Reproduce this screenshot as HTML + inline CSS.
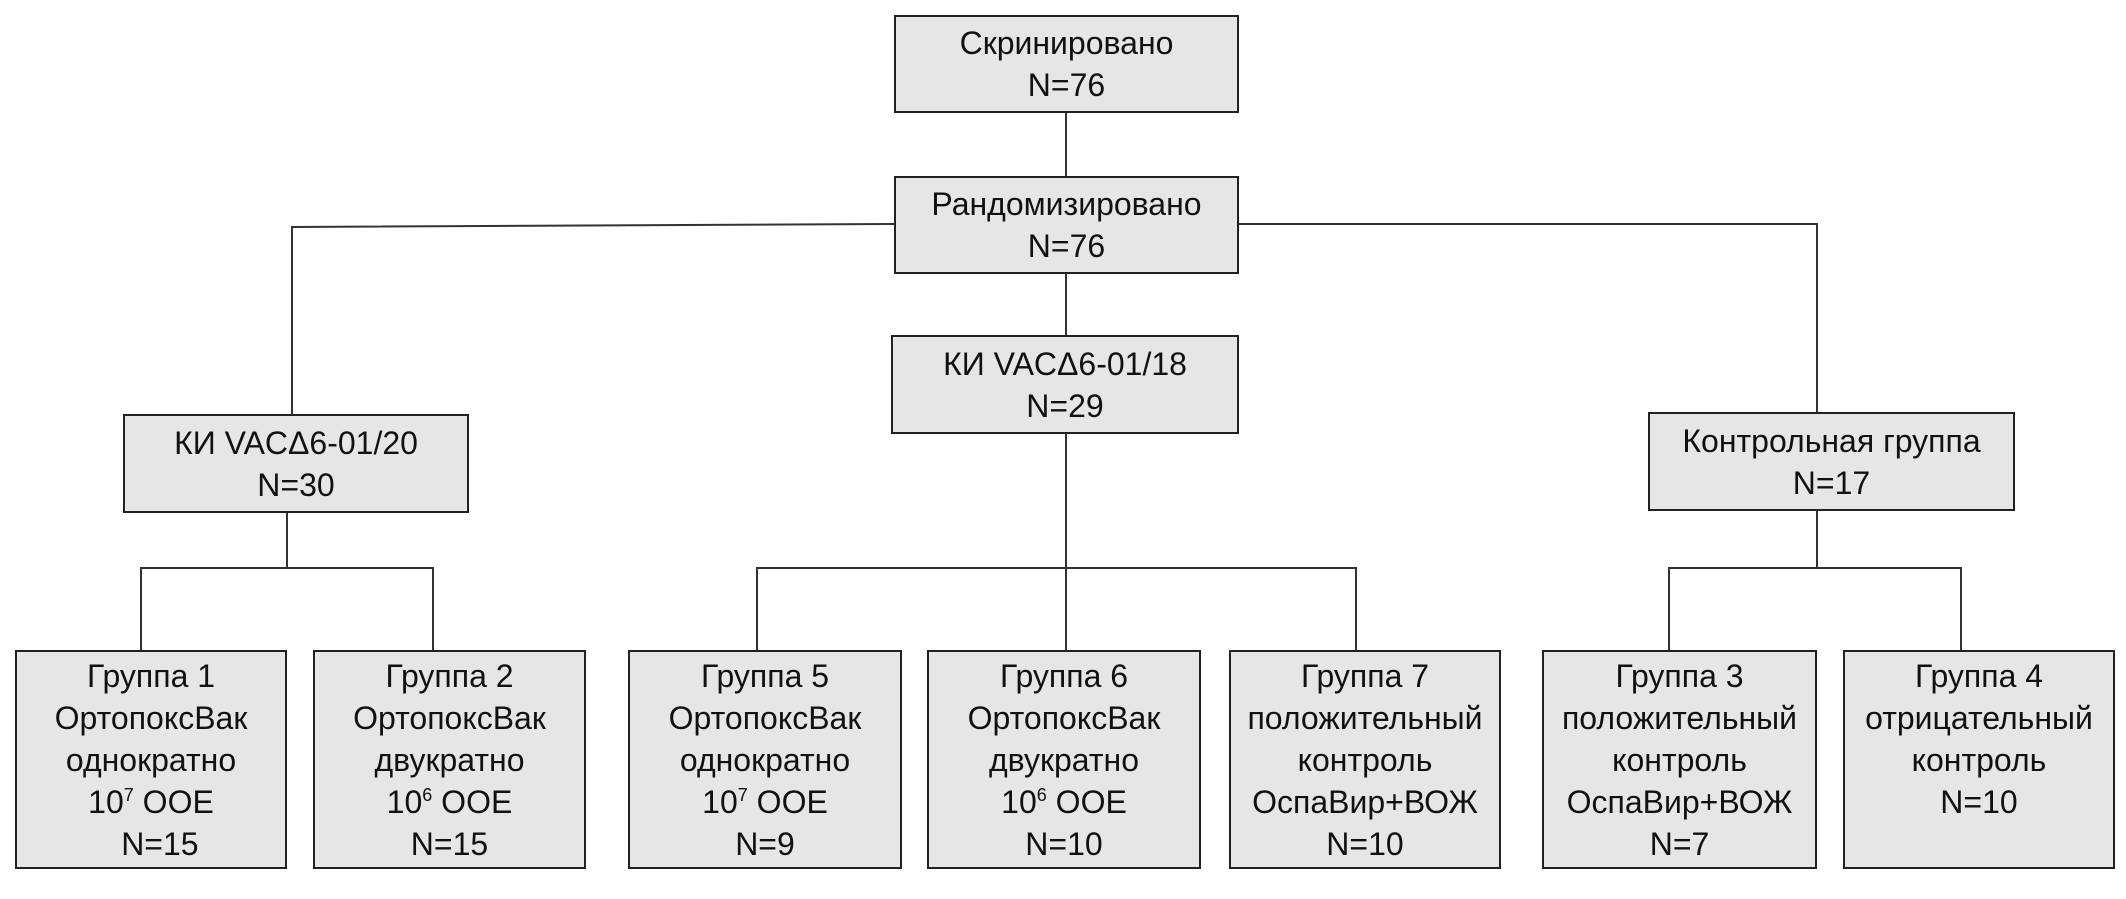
<!DOCTYPE html>
<html><head><meta charset="utf-8"><style>
body{margin:0;width:2126px;height:899px;background:#fff;position:relative;overflow:hidden;font-family:"Liberation Sans","DejaVu Sans",sans-serif;}
.b{position:absolute;box-sizing:border-box;background:#e6e6e6;border:2px solid #222;display:flex;align-items:center;justify-content:center;text-align:center;font-size:32px;line-height:42px;color:#111;}
.b>div{white-space:nowrap}
svg{position:absolute;left:0;top:0}
sup{font-size:18px;line-height:0;vertical-align:12px}
</style></head><body>
<svg width="2126" height="899" stroke="#333" stroke-width="2" fill="none">
<line x1="1066" y1="113" x2="1066" y2="176"/>
<polyline points="894,224 292,227 292,414"/>
<polyline points="1239,224 1817,224 1817,412"/>
<line x1="1066" y1="274" x2="1066" y2="335"/>
<line x1="1066" y1="434" x2="1066" y2="650"/>
<polyline points="757,650 757,568 1356,568 1356,650"/>
<line x1="287" y1="513" x2="287" y2="568"/>
<polyline points="141,650 141,568 433,568 433,650"/>
<line x1="1817" y1="511" x2="1817" y2="568"/>
<polyline points="1669,650 1669,568 1961,568 1961,650"/>
</svg>
<div class="b" style="left:894px;top:15px;width:345px;height:98px"><div>Скринировано<br>N=76</div></div>
<div class="b" style="left:894px;top:176px;width:345px;height:98px"><div>Рандомизировано<br>N=76</div></div>
<div class="b" style="left:891px;top:335px;width:348px;height:99px"><div>КИ VACΔ6-01/18<br>N=29</div></div>
<div class="b" style="left:123px;top:414px;width:346px;height:99px"><div>КИ VACΔ6-01/20<br>N=30</div></div>
<div class="b" style="left:1648px;top:412px;width:367px;height:99px"><div>Контрольная группа<br>N=17</div></div>
<div class="b" style="left:15px;top:650px;width:272px;height:219px"><div>Группа 1<br>ОртопоксВак<br>однократно<br>10<sup>7</sup> ООЕ<br>&nbsp;&nbsp;N=15</div></div>
<div class="b" style="left:313px;top:650px;width:273px;height:219px"><div>Группа 2<br>ОртопоксВак<br>двукратно<br>10<sup>6</sup> ООЕ<br>N=15</div></div>
<div class="b" style="left:628px;top:650px;width:274px;height:219px"><div>Группа 5<br>ОртопоксВак<br>однократно<br>10<sup>7</sup> ООЕ<br>N=9</div></div>
<div class="b" style="left:927px;top:650px;width:274px;height:219px"><div>Группа 6<br>ОртопоксВак<br>двукратно<br>10<sup>6</sup> ООЕ<br>N=10</div></div>
<div class="b" style="left:1229px;top:650px;width:272px;height:219px"><div>Группа 7<br>положительный<br>контроль<br>ОспаВир+ВОЖ<br>N=10</div></div>
<div class="b" style="left:1542px;top:650px;width:275px;height:219px"><div>Группа 3<br>положительный<br>контроль<br>ОспаВир+ВОЖ<br>N=7</div></div>
<div class="b" style="left:1843px;top:650px;width:272px;height:219px"><div style="margin-top:-42px">Группа 4<br>отрицательный<br>контроль<br>N=10</div></div>
</body></html>
